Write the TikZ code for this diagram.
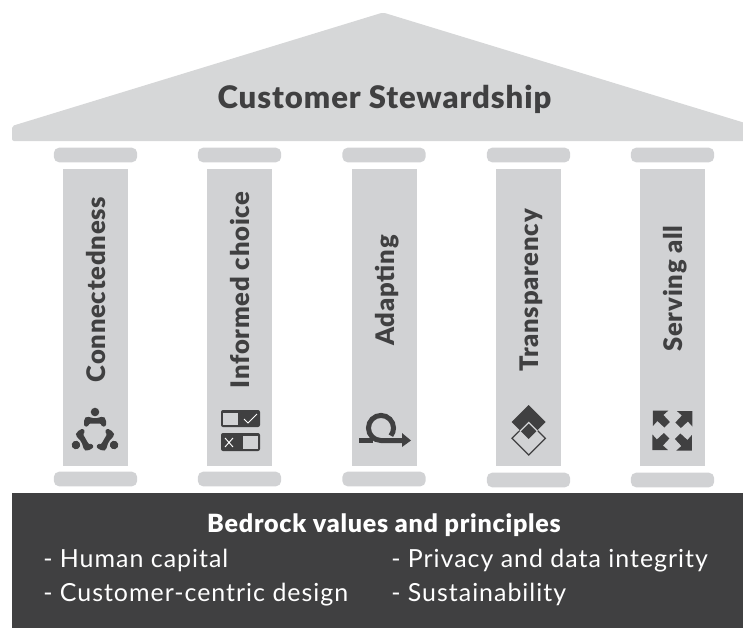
\documentclass[tikz,border=0pt]{standalone}
\usepackage{fontspec}
\setmainfont{Lato}
\usetikzlibrary{positioning}
\definecolor{roofgray}{HTML}{D6D7D8}
\definecolor{colgray}{HTML}{D1D2D4}
\definecolor{rockgray}{HTML}{404041}
\newfontfamily\spacedfont[LetterSpace=4]{Lato}
\newfontfamily\spacedbold[LetterSpace=3,BoldFont={Lato Black}]{Lato}
\tikzset{
  capbar/.style={fill=colgray, rounded corners=4pt, minimum width=62.5pt, minimum height=11pt, inner sep=0pt},
  shaft/.style={fill=colgray, minimum width=48.75pt, minimum height=223pt, inner sep=0pt},
  pillarlabel/.style={rotate=90, anchor=base, inner sep=0pt, text=rockgray, font=\fontsize{19.2}{21}\selectfont\spacedbold\bfseries},
  rocktext/.style={text=white, font=\fontsize{18.7}{21}\selectfont\spacedfont, inner sep=0pt, anchor=base west},
  iconfill/.style={fill=rockgray, draw=none}
}
\begin{document}
\begin{tikzpicture}[x=0.75pt, y=-0.75pt]
\useasboundingbox (0,0) rectangle (743,628);
% roof
\fill[roofgray, rounded corners=1.5pt] (12,141) -- (12,126) -- (383,12.5) -- (750,124.5) -- (750,141) -- cycle;
\fill[white] (743,0) rectangle (760,628);
\node[anchor=base, inner sep=0pt, text=rockgray, font=\fontsize{23.3}{26}\selectfont\spacedbold\bfseries] (title) at (384.5,108) {Customer Stewardship};
% pillars
\foreach \name/\cx/\ty/\by/\txt/\ly in {a/95.5/155/479/Connectedness/289.5, b/239.5/155/479/Informed choice/290, c/384/155/479/Adapting/290.5, d/528.5/155/480/Transparency/290.5, e/672.5/155/480/Serving all/288.5}{
  \node[capbar] (top\name) at (\cx,\ty) {};
  \node[shaft] (shaft\name) at (\cx,317.5) {};
  \node[capbar] (bot\name) at (\cx,\by) {};
  \node[pillarlabel] (lab\name) at (\cx+10,\ly) {\txt};
}
% icon: people in a circle
\begin{scope}[shift={(95,434)}]
  \foreach \ang in {0,120,240}{
    \begin{scope}[rotate=\ang]
      \fill[rockgray] (0,-22) circle[radius=3.2pt];
      \fill[rockgray, rounded corners=1.5pt] (-11,-7.5) -- (-11,-15) -- (-8,-18) -- (-4,-16) -- (4,-16) -- (8,-18) -- (11,-15) -- (11,-7.5) -- (6.5,-7.5) -- (6.5,-10.5) -- (-6.5,-10.5) -- (-6.5,-7.5) -- cycle;
    \end{scope}
  }
\end{scope}
% icon: toggles
\fill[iconfill, rounded corners=1.5pt] (221,410) rectangle (260,427);
\fill[iconfill, rounded corners=1.5pt] (221,433) rectangle (260,451);
\fill[colgray] (223,413) rectangle (238,425);
\fill[colgray] (243,436) rectangle (258,449);
\draw[white, line width=0.7pt] (225,438) -- (233,447) (225,447) -- (233,438);
\draw[white, line width=0.7pt] (244,419) -- (248,423) -- (257,414);
% icon: loop arrow
\fill[iconfill] (359,438) rectangle (373,443);
\draw[rockgray, line width=3.75pt] (403,440.5) -- (381,440.5) arc[start angle=270, end angle=-38, radius=9.4pt];
\fill[iconfill] (402,433) -- (411,440.5) -- (402,447) -- cycle;
% icon: diamonds
\fill[iconfill] (528.7,405) -- (545.7,422) -- (528.7,439) -- (511.7,422) -- cycle;
\draw[rockgray, line width=0.9pt] (528.7,421.7) -- (545.4,438.3) -- (528.7,455) -- (512,438.3) -- cycle;
\draw[colgray, line width=0.9pt] (519.9,431.3) -- (528.7,422.5) -- (537.5,431.3);
% icon: four arrows
\begin{scope}[shift={(672.4,430.5)}]
  \foreach \ang in {0,90,180,270}{
    \begin{scope}[rotate=\ang]
      \fill[iconfill] (20,-19.5) -- (20,-4) -- (15.5,-9) -- (8.5,-2.5) -- (3,-8) -- (9.5,-15) -- (4.5,-19.5) -- cycle;
    \end{scope}
  }
\end{scope}
% bedrock
\fill[rockgray] (12,493) rectangle (743,628);
\node[anchor=base, inner sep=0pt, text=white, font=\fontsize{18.8}{21}\selectfont\spacedbold\bfseries] (head) at (384,532.7) {Bedrock values and principles};
\node[rocktext] (hc) at (43,567) {- Human capital};
\node[rocktext] (ccd) at (43,601.5) {- Customer-centric design};
\node[rocktext] (pd) at (391,567) {- Privacy and data integrity};
\node[rocktext] (su) at (391,601.5) {- Sustainability};
\end{tikzpicture}
\end{document}
